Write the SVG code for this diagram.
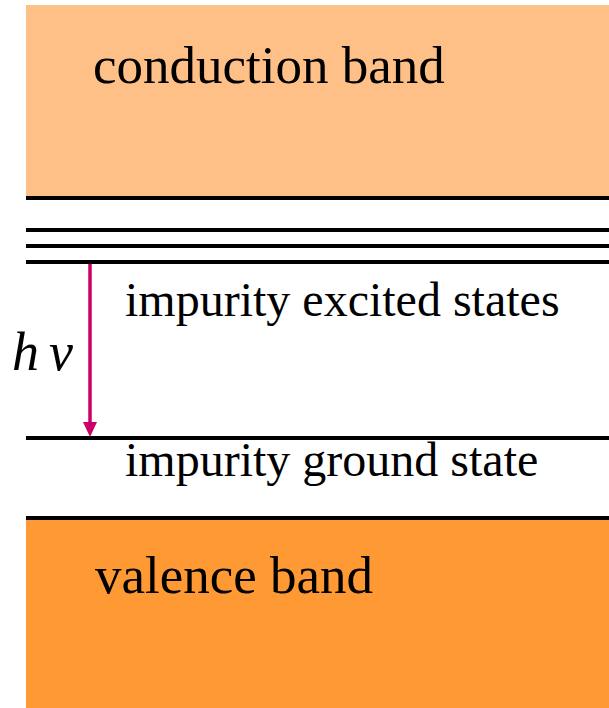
<svg xmlns="http://www.w3.org/2000/svg" width="609" height="708" viewBox="0 0 609 708">
<style>
.lvl{stroke:#000;stroke-width:4}
.band{font-family:"Liberation Serif","Times New Roman",serif;font-size:53px;fill:#000}
.imp{font-family:"Liberation Serif","Times New Roman",serif;font-size:48px;fill:#000}
</style>
<rect width="609" height="708" fill="#fff"/>
<g id="conduction">
<rect x="26" y="5" width="583" height="193" fill="#FFC088"/>
<text class="band" x="93" y="83">conduction band</text>
</g>
<g id="valence">
<rect x="26" y="518" width="583" height="190" fill="#FF9933"/>
<text class="band" x="95" y="593">valence band</text>
</g>
<g id="levels">
<line class="lvl" x1="26" y1="198" x2="609" y2="198"/>
<line class="lvl" x1="26" y1="230" x2="609" y2="230"/>
<line class="lvl" x1="26" y1="246" x2="609" y2="246"/>
<line class="lvl" x1="26" y1="262" x2="609" y2="262"/>
<line class="lvl" x1="26" y1="438" x2="609" y2="438"/>
<line class="lvl" x1="26" y1="518" x2="609" y2="518"/>
</g>
<g id="excited"><text class="imp" x="125" y="316">impurity excited states</text></g>
<g id="ground"><text class="imp" x="125" y="476">impurity ground state</text></g>
<g id="connectors">
<line x1="90" y1="264" x2="90" y2="424" stroke="#CC0066" stroke-width="3.5"/>
<polygon points="83,422 97,422 90,437" fill="#CC0066"/>
</g>
<g id="hv"><text font-family="Liberation Serif,'Times New Roman',serif" font-style="italic" font-size="54" x="12" y="370">h<tspan x="49">ν</tspan></text></g>
</svg>
